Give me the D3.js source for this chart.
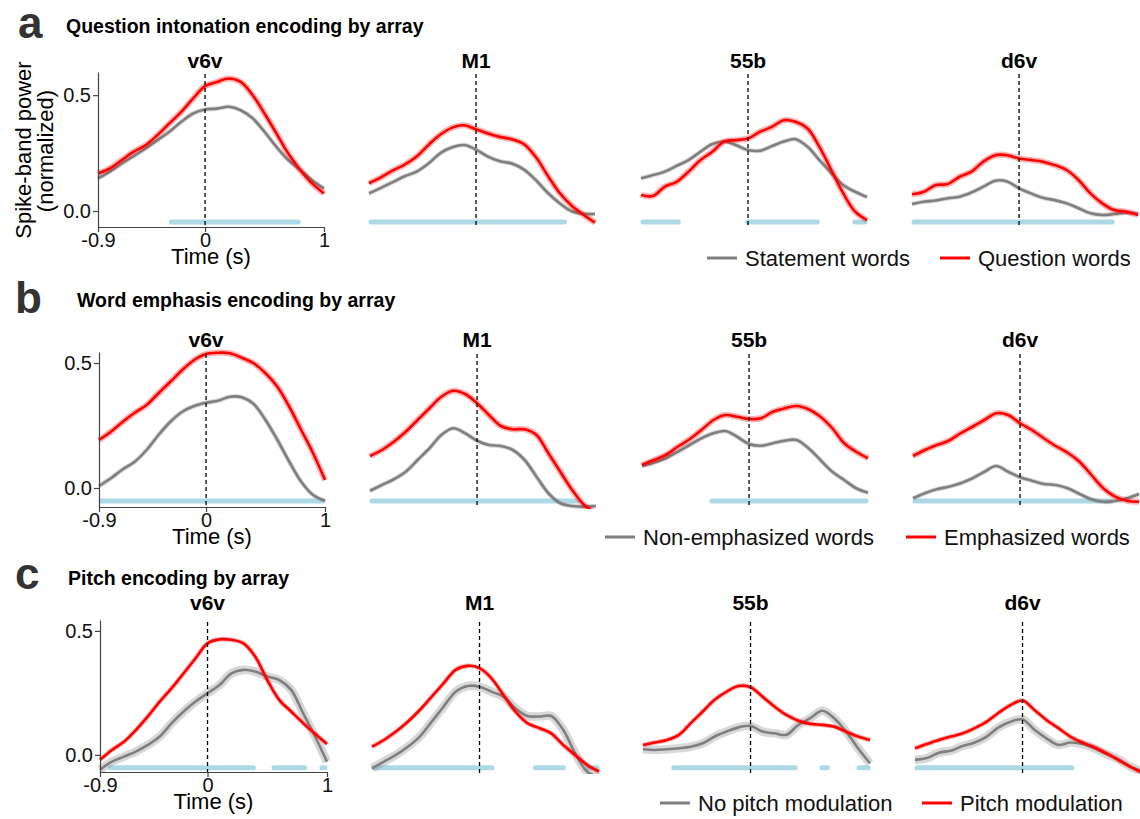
<!DOCTYPE html>
<html>
<head>
<meta charset="utf-8">
<script src="https://cdn.jsdelivr.net/npm/d3@7"></script>
<style>
body{margin:0;background:#fff}
text{font-family:"Liberation Sans",Arial,Helvetica,sans-serif}
</style>
</head>
<body>
<svg id="chart" width="1140" height="819"></svg>
<script>
// sample times (s) of every trace
var times=[-0.9,-0.8,-0.7,-0.6,-0.5,-0.4,-0.3,-0.2,-0.1,0,0.1,0.2,0.3,0.4,0.5,0.6,0.7,0.8,0.9,1.0];
var arrayNames=["v6v","M1","55b","d6v"];
var sectionLetters=["a","b","c"];
var sectionTitles=["Question intonation encoding by array","Word emphasis encoding by array","Pitch encoding by array"];
var grayLabels=["Statement words","Non-emphasized words","No pitch modulation"];
var redLabels=["Question words","Emphasized words","Pitch modulation"];
var xTicks=[-0.9,0,1];
var yTicks=[0,0.5];

// a: question intonation (one row per array: v6v, M1, 55b, d6v)
var statementWords=[
 [0.141,0.17,0.205,0.237,0.27,0.306,0.342,0.385,0.421,0.438,0.442,0.45,0.435,0.4,0.342,0.277,0.22,0.177,0.133,0.097],
 [0.076,0.1,0.125,0.15,0.17,0.205,0.25,0.275,0.285,0.265,0.235,0.215,0.205,0.18,0.135,0.08,0.035,0.0,-0.012,-0.013],
 [0.141,0.155,0.17,0.195,0.22,0.256,0.289,0.30,0.284,0.263,0.26,0.28,0.30,0.31,0.277,0.22,0.164,0.112,0.083,0.06],
 [0.03,0.04,0.045,0.055,0.062,0.08,0.105,0.131,0.127,0.098,0.076,0.057,0.047,0.033,0.012,-0.01,-0.017,-0.013,-0.007,-0.013]
];
var questionWords=[
 [0.162,0.184,0.22,0.256,0.284,0.328,0.378,0.428,0.486,0.539,0.557,0.572,0.557,0.5,0.421,0.335,0.248,0.177,0.119,0.076],
 [0.12,0.145,0.175,0.2,0.235,0.285,0.33,0.36,0.37,0.353,0.335,0.32,0.31,0.29,0.235,0.155,0.08,0.025,-0.015,-0.05],
 [0.069,0.065,0.105,0.126,0.17,0.22,0.256,0.30,0.306,0.313,0.342,0.363,0.392,0.385,0.356,0.277,0.177,0.077,-0.003,-0.039],
 [0.072,0.083,0.112,0.116,0.148,0.17,0.213,0.241,0.241,0.227,0.22,0.213,0.198,0.177,0.134,0.076,0.033,0.004,-0.003,-0.017]
];
var sigQuestion=[[[-0.3,0.8]],[[-0.9,0.76]],[[-0.9,-0.57],[-0.02,0.6],[0.88,1.0]],[[-0.9,0.8]]];

// b: word emphasis
var nonEmphasized=[
 [0.008,0.039,0.075,0.105,0.152,0.212,0.265,0.305,0.328,0.341,0.349,0.365,0.363,0.336,0.272,0.192,0.105,0.025,-0.028,-0.051],
 [-0.011,0.012,0.035,0.065,0.112,0.159,0.212,0.239,0.219,0.189,0.172,0.168,0.152,0.112,0.045,-0.021,-0.061,-0.072,-0.075,-0.072],
 [0.089,0.101,0.119,0.145,0.172,0.199,0.219,0.228,0.205,0.176,0.169,0.179,0.189,0.192,0.159,0.112,0.065,0.032,-0.001,-0.019],
 [-0.041,-0.021,-0.005,0.005,0.019,0.039,0.065,0.088,0.065,0.043,0.029,0.016,0.012,-0.001,-0.024,-0.045,-0.055,-0.052,-0.041,-0.024]
];
var emphasized=[
 [0.192,0.225,0.265,0.301,0.332,0.379,0.425,0.472,0.512,0.536,0.541,0.539,0.521,0.499,0.459,0.405,0.325,0.232,0.139,0.032],
 [0.128,0.152,0.185,0.225,0.272,0.319,0.365,0.389,0.376,0.339,0.292,0.248,0.235,0.235,0.212,0.139,0.065,-0.008,-0.068,-0.1],
 [0.092,0.112,0.132,0.165,0.195,0.232,0.272,0.292,0.285,0.276,0.279,0.305,0.319,0.328,0.315,0.285,0.239,0.179,0.145,0.119],
 [0.128,0.152,0.172,0.189,0.219,0.245,0.272,0.299,0.292,0.259,0.232,0.199,0.168,0.141,0.105,0.052,-0.001,-0.035,-0.051,-0.055]
];
var sigEmphasis=[[[-0.9,1.0]],[[-0.9,0.87]],[[-0.33,1.0]],[[-0.9,0.78]]];

// c: pitch
var noPitchMod=[
 [-0.06,-0.027,-0.007,0.013,0.04,0.074,0.128,0.175,0.215,0.249,0.282,0.329,0.343,0.336,0.316,0.302,0.262,0.168,0.074,-0.027],
 [-0.054,-0.027,0.0,0.033,0.074,0.134,0.195,0.255,0.278,0.275,0.255,0.235,0.188,0.157,0.155,0.157,0.101,0.007,-0.067,-0.09],
 [0.023,0.02,0.023,0.027,0.033,0.047,0.074,0.094,0.111,0.117,0.094,0.087,0.081,0.121,0.148,0.178,0.148,0.094,0.027,-0.034],
 [-0.02,-0.013,0.009,0.017,0.036,0.05,0.074,0.111,0.134,0.143,0.101,0.067,0.04,0.05,0.044,0.027,0.004,-0.017,-0.047,-0.067]
];
var pitchMod=[
 [-0.02,0.02,0.053,0.1,0.155,0.215,0.269,0.329,0.39,0.45,0.466,0.464,0.45,0.396,0.302,0.222,0.175,0.128,0.085,0.044],
 [0.033,0.06,0.094,0.134,0.181,0.235,0.289,0.343,0.359,0.35,0.309,0.242,0.175,0.128,0.108,0.087,0.04,0.0,-0.04,-0.067],
 [0.04,0.05,0.06,0.081,0.128,0.175,0.222,0.255,0.278,0.273,0.235,0.195,0.161,0.138,0.125,0.121,0.114,0.094,0.074,0.06],
 [0.027,0.044,0.06,0.074,0.087,0.108,0.134,0.17,0.201,0.219,0.181,0.141,0.108,0.074,0.05,0.031,0.007,-0.02,-0.047,-0.071]
];
var sigPitch=[[[-0.83,0.4],[0.54,0.83],[0.94,1.0]],[[-0.9,0.12],[0.45,0.72],[0.89,1.0]],[[-0.66,0.39],[0.58,0.66],[0.89,1.0]],[[-0.9,0.43]]];

var grayData=[statementWords,nonEmphasized,noPitchMod];
var redData=[questionWords,emphasized,pitchMod];
var sigData=[sigQuestion,sigEmphasis,sigPitch];

// layout of the three rows
var rows=[
 {top:72,bottom:227,lo:-0.069,hi:0.6,lefts:[98,369,641,912],w:226,letterX:18,letterY:38,titleX:66,titleY:33,headY:68,sigV:-0.047,
  legY:258,legGray:707,legRed:940,grayHalo:2,redHalo:3.5},
 {top:352,bottom:507,lo:-0.076,hi:0.544,lefts:[99,370,642,913],w:226,letterX:15,letterY:313,titleX:77,titleY:307,headY:347,sigV:-0.052,
  legY:537,legGray:605,legRed:906,grayHalo:2,redHalo:3.5},
 {top:620,bottom:772,lo:-0.069,hi:0.544,lefts:[100,372,643,915],w:227,letterX:15,letterY:589,titleX:68,titleY:585,headY:610,sigV:-0.052,
  legY:803,legGray:660,legRed:922,grayHalo:6,redHalo:2}
];

var svg=d3.select("#chart");
var RED="#ff0000",GRAY="#7f7f7f",BLUE="#add8e6";

rows.forEach(function(r,ri){
  svg.append("text")
     .attr("x",r.letterX).attr("y",r.letterY)
     .style("font-size","44px").style("font-weight","bold").style("fill","#333")
     .text(sectionLetters[ri]);
  svg.append("text")
     .attr("x",r.titleX).attr("y",r.titleY)
     .style("font-size","19.5px").style("font-weight","bold").style("fill","#000")
     .text(sectionTitles[ri]);

  arrayNames.forEach(function(name,pi){
    var L=r.lefts[pi];
    var x=d3.scaleLinear().domain([-0.9,1]).range([L,L+r.w]);
    var y=d3.scaleLinear().domain([r.lo,r.hi]).range([r.bottom,r.top]);
    var g=svg.append("g");
    var cid="clip"+ri+"_"+pi;
    svg.append("clipPath").attr("id",cid).append("rect")
       .attr("x",L-3).attr("y",r.top-5).attr("width",r.w+6).attr("height",r.bottom-r.top+7);

    // significance bars
    sigData[ri][pi].forEach(function(s){
      g.append("line")
       .attr("x1",x(s[0])+2).attr("x2",x(s[1])-2)
       .attr("y1",y(r.sigV)).attr("y2",y(r.sigV))
       .style("stroke",BLUE).style("stroke-width",5).style("stroke-linecap","round");
    });

    var line=d3.line().x(function(d,i){return x(times[i]);}).y(function(d){return y(d);})
       .curve(d3.curveCatmullRom.alpha(0.5));
    var traces=[[grayData[ri][pi],GRAY,r.grayHalo],[redData[ri][pi],RED,r.redHalo]];
    traces.forEach(function(t){
      var tg=g.append("g").attr("clip-path","url(#"+cid+")");
      tg.append("path").attr("d",line(t[0]))
        .style("fill","none").style("stroke",t[1]).style("stroke-opacity",0.3)
        .style("stroke-width",2.6+t[2]).style("stroke-linejoin","round");
      tg.append("path").attr("d",line(t[0]))
        .style("fill","none").style("stroke",t[1])
        .style("stroke-width",2.6).style("stroke-linejoin","round");
    });

    // onset marker
    g.append("line")
     .attr("x1",x(0)).attr("x2",x(0)).attr("y1",r.top+2).attr("y2",r.bottom+1)
     .style("stroke","#000").style("stroke-width",1.3).style("stroke-dasharray","4,3");

    g.append("text")
     .attr("x",x(0)).attr("y",r.headY).attr("text-anchor","middle")
     .style("font-size","21px").style("font-weight","bold")
     .text(name);

    if(pi===0){
      var ya=g.append("g").attr("transform","translate("+L+",0)")
        .call(d3.axisLeft(y).tickValues(yTicks).tickSize(5).tickSizeOuter(0).tickPadding(2).tickFormat(d3.format(".1f")));
      var xa=g.append("g").attr("transform","translate(0,"+r.bottom+")")
        .call(d3.axisBottom(x).tickValues(xTicks).tickSize(5).tickSizeOuter(0).tickPadding(1).tickFormat(function(d){return String(d);}));
      [ya,xa].forEach(function(a){
        a.select(".domain").style("stroke","#444").style("stroke-width",1.2);
        a.selectAll(".tick line").style("stroke","#444").style("stroke-width",1.2);
        a.selectAll(".tick text").style("font-size","20px").style("fill","#111")
         .style("font-family","'Liberation Sans',Arial,sans-serif");
      });
      g.append("text")
       .attr("x",L+r.w/2).attr("y",r.bottom+37).attr("text-anchor","middle")
       .style("font-size","22px").text("Time (s)");
    }
  });

  // legend
  [[r.legGray,GRAY,grayLabels[ri]],[r.legRed,RED,redLabels[ri]]].forEach(function(l){
    svg.append("line")
       .attr("x1",l[0]).attr("x2",l[0]+30).attr("y1",r.legY).attr("y2",r.legY)
       .style("stroke",l[1]).style("stroke-width",3);
    svg.append("text")
       .attr("x",l[0]+38).attr("y",r.legY+8)
       .style("font-size","22px").style("fill","#111").text(l[2]);
  });
});

// y label, only in the first row
svg.append("text")
   .attr("transform","translate(31,150) rotate(-90)").attr("text-anchor","middle")
   .style("font-size","22px").text("Spike-band power");
svg.append("text")
   .attr("transform","translate(53,151) rotate(-90)").attr("text-anchor","middle")
   .style("font-size","22px").text("(normalized)");
</script>
</body>
</html>
